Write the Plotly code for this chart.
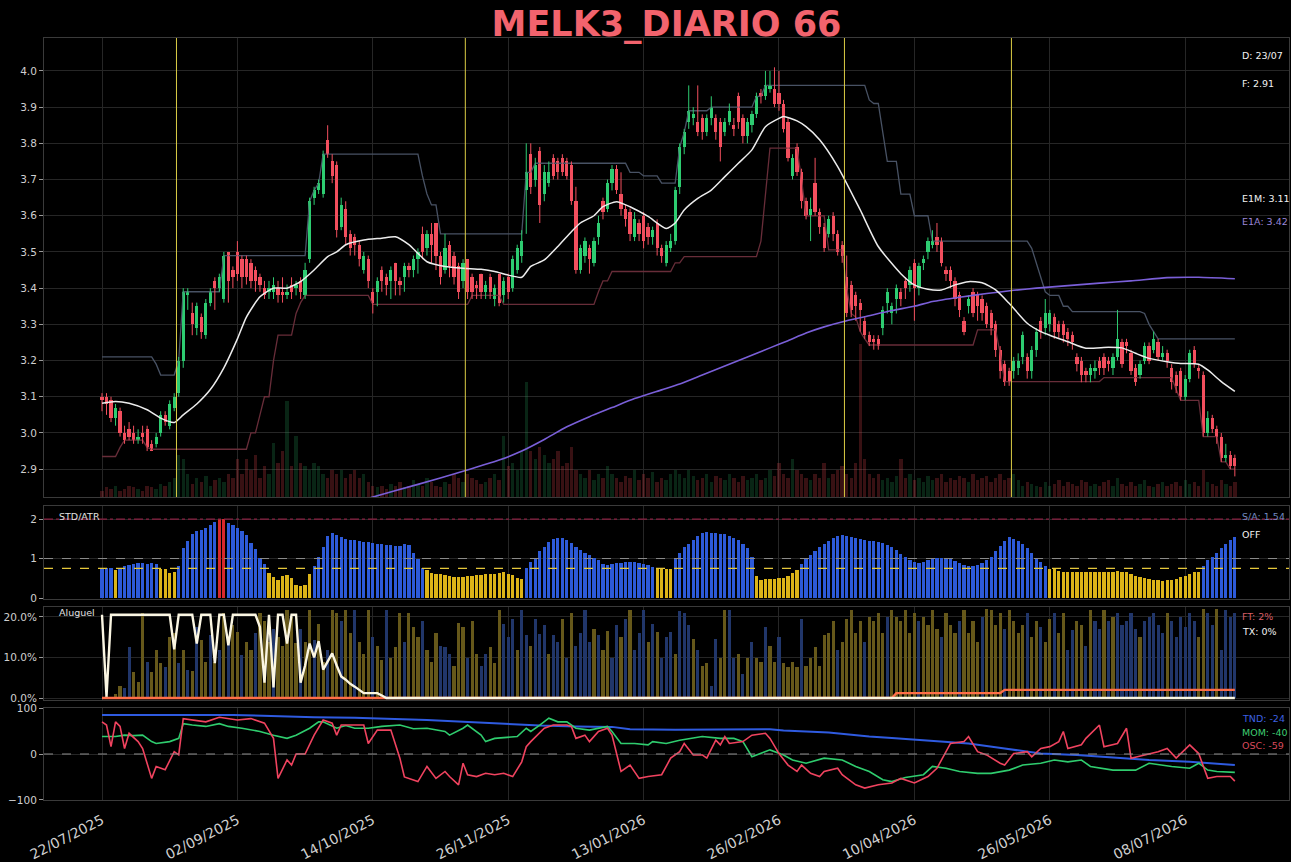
import plotly.graph_objects as go

TITLE = "MELK3_DIARIO 66"
TICK_POS = [0, 30, 60, 90, 120, 150, 180, 210, 240]
TICK_LABELS = ["22/07/2025", "02/09/2025", "14/10/2025", "26/11/2025", "13/01/2026",
               "26/02/2026", "10/04/2026", "26/05/2026", "08/07/2026"]
EVENTS = [16.5, 80.5, 164.5, 201.5]

OPEN = [3.10,3.10,3.09,3.04,3.06,3.00,3.01,3.00,2.98,3.00,
        3.01,2.97,2.97,3.00,3.05,3.02,3.07,3.11,3.20,3.38,
        3.33,3.29,3.32,3.27,3.36,3.42,3.40,3.37,3.50,3.45,
        3.50,3.48,3.48,3.47,3.45,3.43,3.40,3.39,3.39,3.40,
        3.39,3.38,3.41,3.40,3.42,3.38,3.48,3.65,3.67,3.66,
        3.81,3.75,3.74,3.57,3.62,3.55,3.54,3.52,3.45,3.48,
        3.39,3.39,3.45,3.43,3.42,3.47,3.42,3.43,3.46,3.45,
        3.48,3.55,3.51,3.55,3.58,3.49,3.45,3.52,3.49,3.46,
        3.42,3.48,3.43,3.41,3.44,3.39,3.43,3.37,3.44,3.38,
        3.43,3.40,3.45,3.49,3.67,3.77,3.70,3.78,3.66,3.69,
        3.76,3.75,3.76,3.75,3.74,3.64,3.45,3.49,3.51,3.47,
        3.54,3.64,3.62,3.69,3.73,3.66,3.62,3.61,3.54,3.58,
        3.60,3.57,3.54,3.58,3.51,3.47,3.51,3.53,3.68,3.79,
        3.86,3.87,3.86,3.87,3.83,3.87,3.87,3.86,3.83,3.86,
        3.85,3.93,3.87,3.82,3.85,3.88,3.94,3.93,3.95,3.95,
        3.94,3.91,3.86,3.71,3.79,3.72,3.64,3.60,3.69,3.61,
        3.57,3.55,3.60,3.55,3.52,3.43,3.41,3.38,3.36,3.31,
        3.27,3.26,3.26,3.29,3.36,3.33,3.37,3.39,3.42,3.41,
        3.47,3.40,3.47,3.50,3.52,3.54,3.53,3.45,3.45,3.42,
        3.38,3.31,3.35,3.39,3.38,3.37,3.35,3.33,3.30,3.23,
        3.19,3.17,3.17,3.18,3.21,3.21,3.17,3.23,3.31,3.29,
        3.30,3.32,3.30,3.30,3.28,3.27,3.21,3.20,3.17,3.16,
        3.17,3.20,3.21,3.20,3.18,3.21,3.25,3.25,3.22,3.18,
        3.16,3.20,3.24,3.23,3.25,3.21,3.22,3.18,3.16,3.17,
        3.10,3.15,3.23,3.18,3.16,3.00,3.04,3.01,2.99,2.93,
        2.94,2.93]

CLOSE = [3.09,3.08,3.04,3.07,3.00,2.98,2.99,2.98,2.99,2.99,
         2.96,2.95,2.99,3.05,3.03,3.08,3.10,3.20,3.39,3.39,
         3.30,3.35,3.28,3.36,3.39,3.40,3.43,3.49,3.42,3.43,
         3.44,3.43,3.43,3.42,3.42,3.41,3.38,3.40,3.41,3.38,
         3.38,3.39,3.39,3.41,3.39,3.45,3.64,3.67,3.69,3.77,
         3.77,3.71,3.56,3.63,3.54,3.51,3.52,3.48,3.49,3.42,
         3.36,3.42,3.42,3.41,3.45,3.42,3.41,3.46,3.45,3.48,
         3.50,3.50,3.55,3.52,3.49,3.43,3.51,3.46,3.43,3.39,
         3.47,3.39,3.39,3.40,3.39,3.41,3.39,3.40,3.36,3.42,
         3.39,3.48,3.51,3.53,3.72,3.68,3.74,3.63,3.72,3.72,
         3.71,3.72,3.72,3.71,3.64,3.45,3.51,3.53,3.48,3.53,
         3.58,3.61,3.69,3.73,3.67,3.62,3.59,3.55,3.59,3.55,
         3.53,3.54,3.56,3.51,3.49,3.52,3.53,3.67,3.79,3.83,
         3.89,3.88,3.83,3.83,3.87,3.90,3.83,3.79,3.86,3.89,
         3.84,3.86,3.82,3.86,3.88,3.93,3.93,3.96,3.96,3.91,
         3.91,3.84,3.76,3.76,3.72,3.64,3.60,3.62,3.61,3.57,
         3.51,3.59,3.55,3.50,3.49,3.33,3.34,3.35,3.34,3.27,
         3.25,3.25,3.24,3.34,3.39,3.35,3.40,3.37,3.40,3.45,
         3.40,3.46,3.48,3.53,3.53,3.52,3.47,3.44,3.42,3.37,
         3.34,3.28,3.37,3.33,3.35,3.33,3.30,3.29,3.23,3.17,
         3.14,3.14,3.20,3.20,3.27,3.17,3.23,3.28,3.28,3.33,
         3.33,3.28,3.28,3.27,3.26,3.25,3.19,3.16,3.16,3.18,
         3.18,3.18,3.18,3.19,3.21,3.26,3.19,3.24,3.17,3.14,
         3.19,3.24,3.20,3.26,3.21,3.22,3.20,3.14,3.13,3.10,
         3.15,3.22,3.19,3.17,3.00,3.04,3.01,2.99,2.93,2.94,
         2.91,2.91]

HIGH = [3.11,3.11,3.10,3.08,3.07,3.02,3.03,3.02,3.01,3.02,
        3.02,2.98,3.00,3.06,3.06,3.09,3.11,3.21,3.40,3.40,
        3.36,3.36,3.33,3.37,3.40,3.43,3.44,3.50,3.50,3.46,
        3.53,3.49,3.49,3.48,3.46,3.44,3.42,3.42,3.43,3.42,
        3.43,3.41,3.43,3.42,3.43,3.47,3.65,3.68,3.70,3.78,
        3.85,3.77,3.75,3.65,3.64,3.56,3.55,3.53,3.50,3.49,
        3.40,3.43,3.46,3.44,3.46,3.47,3.43,3.47,3.47,3.49,
        3.51,3.57,3.56,3.58,3.58,3.50,3.55,3.53,3.50,3.47,
        3.48,3.48,3.44,3.42,3.44,3.42,3.44,3.41,3.44,3.43,
        3.44,3.49,3.52,3.56,3.80,3.80,3.76,3.79,3.74,3.75,
        3.77,3.76,3.77,3.76,3.75,3.68,3.52,3.54,3.52,3.54,
        3.60,3.65,3.70,3.74,3.74,3.72,3.63,3.62,3.61,3.59,
        3.61,3.58,3.57,3.59,3.52,3.53,3.55,3.68,3.80,3.84,
        3.96,3.90,3.96,3.88,3.88,3.93,3.88,3.87,3.87,3.91,
        3.87,3.94,3.88,3.87,3.89,3.94,3.95,4.00,4.00,4.01,
        4.00,3.92,3.87,3.77,3.80,3.73,3.65,3.65,3.76,3.62,
        3.58,3.60,3.61,3.56,3.53,3.49,3.42,3.39,3.37,3.32,
        3.28,3.27,3.27,3.35,3.40,3.36,3.41,3.40,3.43,3.46,
        3.48,3.47,3.49,3.54,3.56,3.58,3.54,3.46,3.46,3.43,
        3.39,3.32,3.38,3.40,3.39,3.38,3.36,3.34,3.31,3.24,
        3.20,3.18,3.21,3.22,3.28,3.22,3.24,3.29,3.32,3.37,
        3.34,3.33,3.31,3.31,3.29,3.28,3.22,3.21,3.18,3.19,
        3.20,3.21,3.22,3.21,3.22,3.34,3.26,3.26,3.23,3.19,
        3.20,3.25,3.25,3.28,3.26,3.24,3.23,3.19,3.17,3.18,
        3.16,3.23,3.24,3.19,3.17,3.06,3.05,3.02,3.00,2.97,
        2.95,2.94]

LOW = [3.06,3.05,3.03,3.02,2.99,2.97,2.98,2.97,2.97,2.97,
       2.95,2.95,2.96,2.99,3.02,3.01,3.06,3.10,3.18,3.34,
       3.27,3.27,3.26,3.26,3.35,3.34,3.39,3.36,3.36,3.40,
       3.42,3.40,3.41,3.40,3.39,3.39,3.37,3.37,3.37,3.36,
       3.36,3.37,3.37,3.38,3.37,3.37,3.47,3.63,3.66,3.65,
       3.76,3.69,3.54,3.56,3.52,3.49,3.49,3.46,3.44,3.40,
       3.33,3.35,3.39,3.38,3.37,3.38,3.38,3.39,3.43,3.43,
       3.44,3.48,3.49,3.47,3.45,3.41,3.44,3.43,3.41,3.37,
       3.40,3.37,3.37,3.37,3.37,3.37,3.37,3.35,3.35,3.36,
       3.37,3.39,3.44,3.47,3.55,3.66,3.68,3.58,3.64,3.68,
       3.70,3.70,3.71,3.70,3.63,3.44,3.44,3.47,3.44,3.46,
       3.52,3.59,3.61,3.67,3.66,3.60,3.57,3.53,3.53,3.53,
       3.51,3.52,3.52,3.49,3.47,3.46,3.50,3.52,3.66,3.77,
       3.84,3.85,3.82,3.81,3.82,3.85,3.81,3.75,3.82,3.85,
       3.82,3.84,3.80,3.80,3.83,3.87,3.91,3.92,3.94,3.90,
       3.89,3.83,3.75,3.70,3.71,3.62,3.59,3.53,3.60,3.55,
       3.50,3.54,3.53,3.49,3.47,3.32,3.32,3.31,3.28,3.26,
       3.24,3.23,3.23,3.27,3.33,3.30,3.33,3.35,3.37,3.39,
       3.31,3.38,3.45,3.48,3.51,3.50,3.46,3.42,3.40,3.35,
       3.32,3.27,3.33,3.32,3.31,3.31,3.29,3.27,3.21,3.15,
       3.13,3.13,3.15,3.16,3.19,3.15,3.15,3.21,3.26,3.27,
       3.28,3.26,3.26,3.25,3.24,3.23,3.17,3.14,3.14,3.14,
       3.15,3.16,3.16,3.17,3.16,3.20,3.18,3.22,3.16,3.13,
       3.15,3.19,3.19,3.22,3.20,3.20,3.18,3.12,3.11,3.09,
       3.09,3.14,3.18,3.15,2.99,2.99,3.00,2.97,2.92,2.92,
       2.90,2.88]

VOLUME = [0.15,0.25,0.20,0.30,0.15,0.20,0.30,0.25,0.20,0.15,
          0.30,0.25,0.20,0.35,0.30,0.40,0.50,1.10,1.00,0.60,
          0.35,0.50,0.40,0.55,0.30,0.45,0.50,0.40,0.60,0.50,
          1.00,0.60,1.00,0.70,1.10,0.50,0.80,0.60,1.40,0.90,
          1.20,2.50,0.80,1.60,0.90,0.80,0.70,0.90,0.80,0.60,
          0.50,0.70,0.60,0.70,0.50,0.60,0.70,0.50,0.60,0.40,
          0.30,0.25,0.30,0.20,0.35,0.30,0.40,0.25,0.30,0.45,
          0.35,0.30,0.50,0.40,0.30,0.25,0.40,0.35,0.60,0.50,
          0.40,0.60,0.50,0.45,0.35,0.40,0.50,0.60,0.45,1.60,
          0.80,0.90,0.70,1.20,3.00,1.20,1.00,1.30,1.10,0.90,
          1.00,1.20,0.80,0.90,1.30,0.70,0.60,0.50,0.70,0.45,
          0.60,0.50,0.80,0.60,0.50,0.40,0.55,0.50,0.70,0.45,
          0.60,0.50,0.65,0.40,0.50,0.45,0.60,0.70,0.60,0.50,
          0.70,0.55,0.45,0.50,0.60,0.40,0.55,0.50,0.45,0.60,
          0.50,0.40,0.55,0.45,0.50,0.60,0.45,0.50,0.70,0.55,
          0.90,0.60,0.50,1.00,0.70,0.60,0.50,0.45,0.60,0.50,
          0.90,0.50,0.60,0.70,0.80,0.60,0.50,0.90,4.00,1.00,
          0.60,0.50,0.60,0.45,0.50,0.40,0.55,1.00,0.50,0.60,
          0.45,0.50,0.40,0.55,0.45,0.50,0.60,0.40,0.50,0.45,
          0.55,0.50,0.40,0.60,0.45,0.50,0.55,0.40,0.50,0.60,
          0.45,0.50,0.60,0.45,0.30,0.40,0.35,0.30,0.25,0.40,
          0.30,0.35,0.45,0.30,0.40,0.35,0.30,0.45,0.40,0.30,
          0.35,0.30,0.40,0.45,0.30,0.50,0.35,0.30,0.40,0.30,
          0.35,0.45,0.30,0.25,0.35,0.40,0.30,0.35,0.40,0.30,
          0.45,0.35,0.40,0.30,0.70,0.40,0.35,0.30,0.45,0.35,
          0.30,0.40]

# channel lines, (value, number of bars) read as flat steps
UPPER_RUNS = [(3.21,12),(3.19,1),(3.16,4),(3.20,1),(3.39,9),(3.49,19),(3.64,1),(3.67,1),
              (3.69,1),(3.77,22),(3.71,1),(3.66,1),(3.63,2),(3.55,19),(3.72,2),(3.745,21),
              (3.72,3),(3.71,4),(3.69,4),(3.79,1),(3.83,1),(3.89,5),(3.90,10),(3.93,2),
              (3.96,23),(3.92,1),(3.91,2),(3.83,1),(3.75,3),(3.66,3),(3.60,4),(3.53,22),
              (3.51,1),(3.47,1),(3.43,1),(3.39,1),(3.38,3),(3.35,2),(3.335,16),(3.33,1),
              (3.30,1),(3.28,1),(3.26,18)]
LOWER_RUNS = [(2.935,4),(2.96,1),(2.98,5),(2.96,1),(2.955,22),(3.00,2),(3.05,1),(3.10,2),
              (3.20,1),(3.27,4),(3.33,1),(3.36,1),(3.38,15),(3.355,22),(3.38,7),(3.355,21),
              (3.39,1),(3.42,2),(3.446,14),(3.47,2),(3.487,17),(3.53,1),(3.65,1),(3.787,7),
              (3.70,1),(3.60,5),(3.506,4),(3.40,1),(3.33,1),(3.32,1),(3.28,1),(3.26,1),
              (3.243,24),(3.285,5),(3.22,1),(3.142,22),(3.153,16),(3.12,1),(3.09,5),
              (2.99,4),(2.92,2),(2.90,2)]

MA_X = [0,3,6,10,13,16,18,21,24,27,30,32,35,38,41,44,47,50,52,54,58,62,65,68,70,72,76,80,84,87,
        90,93,95,98,101,104,106,109,111,114,117,121,125,127,129,132,135,138,141,144,147,150,151,
        154,156,159,163,168,172,177,180,183,186,189,192,195,198,201,205,208,210,214,218,223,226,
        229,232,236,239,243,245,248,251]
MA_Y = [3.082,3.087,3.082,3.064,3.041,3.029,3.05,3.08,3.12,3.18,3.26,3.32,3.376,3.40,3.40,3.418,
        3.45,3.487,3.50,3.52,3.533,3.538,3.542,3.52,3.496,3.473,3.46,3.455,3.452,3.446,3.436,3.43,
        3.46,3.478,3.515,3.556,3.58,3.60,3.625,3.639,3.625,3.598,3.565,3.58,3.616,3.648,3.671,3.708,
        3.745,3.782,3.846,3.869,3.874,3.862,3.846,3.81,3.736,3.616,3.515,3.44,3.409,3.397,3.395,
        3.409,3.418,3.415,3.395,3.358,3.303,3.28,3.27,3.252,3.234,3.237,3.235,3.22,3.206,3.197,
        3.192,3.19,3.174,3.142,3.115]

E1A_X = [55,60,70,80,88,93,98,103,108,113,118,124,128,133,138,143,148,152,156,160,165,169,175,
         180,184,190,196,202,207,214,221,228,236,243,251]
E1A_Y = [2.805,2.823,2.858,2.894,2.925,2.950,2.982,3.017,3.045,3.07,3.095,3.119,3.135,3.16,3.185,
         3.21,3.235,3.255,3.276,3.293,3.31,3.321,3.338,3.35,3.363,3.375,3.385,3.394,3.40,3.407,
         3.414,3.42,3.429,3.43,3.426]

STD_ATR = [0.76,0.76,0.75,0.72,0.77,0.80,0.84,0.87,0.88,0.88,
           0.87,0.88,0.85,0.74,0.73,0.64,0.65,0.80,1.26,1.45,
           1.62,1.70,1.72,1.78,1.85,1.92,1.99,2.00,1.90,1.84,
           1.78,1.70,1.60,1.40,1.25,1.02,0.85,0.63,0.52,0.46,
           0.55,0.57,0.50,0.33,0.30,0.33,0.60,0.80,1.05,1.30,
           1.58,1.65,1.60,1.55,1.50,1.48,1.46,1.44,1.43,1.42,
           1.40,1.38,1.36,1.35,1.34,1.32,1.32,1.38,1.35,1.15,
           1.00,0.76,0.70,0.63,0.62,0.60,0.58,0.55,0.53,0.52,
           0.53,0.55,0.56,0.57,0.58,0.60,0.61,0.62,0.64,0.66,
           0.62,0.58,0.50,0.48,0.76,0.90,1.00,1.18,1.30,1.42,
           1.50,1.53,1.52,1.47,1.40,1.30,1.22,1.15,1.10,1.02,
           0.95,0.86,0.84,0.86,0.88,0.88,0.90,0.92,0.90,0.88,
           0.86,0.84,0.78,0.74,0.74,0.74,0.73,1.00,1.15,1.28,
           1.38,1.48,1.58,1.64,1.66,1.65,1.64,1.63,1.62,1.58,
           1.53,1.46,1.38,1.26,1.05,0.55,0.46,0.47,0.48,0.49,
           0.50,0.50,0.55,0.63,0.72,0.86,0.98,1.08,1.18,1.28,
           1.36,1.45,1.52,1.58,1.60,1.58,1.55,1.52,1.49,1.47,
           1.45,1.44,1.43,1.40,1.35,1.28,1.22,1.12,1.03,0.96,
           0.92,0.88,0.90,0.95,0.99,1.01,1.01,1.00,0.98,0.94,
           0.88,0.83,0.80,0.81,0.83,0.88,0.95,1.05,1.18,1.32,
           1.45,1.54,1.50,1.44,1.36,1.26,1.15,1.02,0.90,0.80,
           0.74,0.73,0.68,0.66,0.65,0.66,0.66,0.65,0.66,0.67,
           0.66,0.67,0.66,0.67,0.67,0.68,0.66,0.66,0.60,0.56,
           0.53,0.51,0.48,0.46,0.45,0.44,0.45,0.46,0.48,0.52,
           0.56,0.62,0.67,0.66,0.80,0.95,1.05,1.15,1.26,1.37,
           1.46,1.54]
STD_LEVELS = [2.0, 1.0, 0.75]

ALUGUEL = [0.0,0.5,0.3,1.0,3.0,2.5,12.6,6.5,4.0,21.0,
           9.0,6.5,12.0,8.6,7.7,15.0,16.0,8.6,12.0,7.0,
           6.8,17.6,14.4,9.0,15.7,9.0,12.0,21.0,14.4,18.0,
           16.3,10.7,14.0,12.0,16.0,21.0,19.0,14.0,17.0,15.0,
           13.0,21.8,20.0,13.6,17.0,14.0,21.8,14.4,18.2,9.0,
           12.0,21.8,21.0,19.0,21.8,16.0,21.8,14.0,11.0,21.8,
           15.0,13.0,9.5,21.8,10.0,12.6,21.0,14.0,21.0,17.6,
           15.0,19.0,12.0,9.0,16.0,13.0,12.6,11.0,8.0,18.6,
           17.6,10.0,19.0,11.0,8.0,11.0,12.6,8.6,21.8,18.2,
           15.0,19.6,12.0,21.8,15.5,13.0,19.6,15.8,18.0,11.0,
           15.5,14.0,19.6,10.0,20.9,13.0,16.0,21.8,14.0,17.0,
           15.7,12.0,16.7,10.0,18.0,15.0,19.6,21.8,12.0,16.0,
           21.8,14.0,18.2,16.3,10.0,15.0,16.3,11.0,21.5,21.0,
           18.0,14.7,12.0,8.0,8.6,3.0,14.7,10.0,21.8,21.8,
           10.0,11.0,6.0,10.0,14.0,10.0,9.0,17.6,13.0,9.0,
           15.0,8.6,7.7,9.0,7.7,19.6,8.0,10.0,12.6,8.0,
           15.6,16.0,19.0,12.0,14.0,19.6,21.8,16.0,19.0,14.0,
           20.0,19.0,21.0,16.0,20.0,21.8,20.0,19.0,21.8,16.0,
           21.0,19.0,20.0,18.0,21.8,17.0,15.0,21.0,18.0,16.0,
           19.0,21.8,16.0,19.0,14.0,20.0,22.0,21.8,18.0,21.0,
           17.0,21.8,19.0,16.0,18.0,21.0,15.0,19.0,17.6,14.0,
           19.6,21.0,16.0,21.0,12.0,16.9,19.0,18.0,13.0,21.8,
           19.0,17.0,21.8,19.0,20.0,21.0,18.0,19.0,21.0,17.0,
           15.0,19.0,20.0,21.0,18.0,16.0,21.0,19.0,15.0,20.0,
           17.6,21.0,19.0,15.0,22.0,21.0,18.0,22.0,12.0,21.8,
           20.0,21.0]
ALUGUEL_KIND = ("YYBYYBBYYY" "BYYYBYYBYB" "YBYYBYBYBY" "YBYYBYYYBY" "YYYYBYYBYY"
                "BYYBYYBYYY" "BYYBYYYBYY" "YBYYYBBBYY" "YBYYBBYYYB" "BBYBBYBBBY"
                "BBYBYBBBBY" "BYYBBYBYBB" "BYBYBBBYBB" "BYBYYBBYYB" "BYBYBYYBYY"
                "BYYYYBYYYY" "YYYBYYYYYB" "YYYYBYYYYY" "YBYYYYBYYY" "BYYYYBYYYY"
                "BYYYYBYYBY" "YBYYBBYYBY" "BBYBYBBBBB" "YBBBBBYBBB" "BBBYYBBYBB" "BB")
TX_LINE = [20.5,0.3,20.5,20.5,20.5,20.5,20.5,20.5,
           20.5,20.5,20.5,20.5,20.5,20.5,20.5,20.5,
           12.0,20.5,20.5,20.5,20.5,13.4,20.5,20.5,
           20.5,8.6,20.5,20.5,13.0,20.5,20.5,20.5,
           20.5,20.5,20.5,17.5,3.8,20.5,2.6,20.5,
           20.5,13.4,20.5,20.5,3.8,8.0,13.4,10.0,
           14.0,7.0,9.0,11.0,8.0,5.3,4.5,3.5,
           2.8,2.0,1.2,1.2,1.2,1.2,0.6,0.0] + [0.0] * 188
FT_LINE = [0.0] * 176 + [1.2] * 24 + [2.0] * 52

TND = [(0,85),(29,85),(47,80),(56,79),(72,74),(80,70),(89,67),(97,62),(105,60),(113,59),(117,54),
       (127,53),(148,54),(151,51),(161,47),(170,38),(175,35),(183,30),(192,23),(200,12),(208,1),
       (216,-2),(224,-8),(232,-13),(241,-17),(251,-24)]
MOM = [(0,38),(3,38),(5,41),(7,40),(9,41),(11,27),(12,23),(15,27),(17,34),(18,66),(20,63),(23,60),
       (26,66),(28,60),(31,56),(35,49),(38,41),(41,34),(43,41),(46,56),(48,70),(49,70),(52,56),(54,62),
       (56,56),(59,56),(62,60),(66,63),(69,55),(72,56),(76,49),(77,41),(80,56),(81,63),(84,41),(85,27),
       (87,34),(89,36),(92,38),(94,56),(95,49),(97,63),(99,78),(101,70),(103,70),(105,56),(108,52),
       (112,60),(113,49),(115,23),(118,23),(121,20),(122,27),(125,23),(128,30),(133,38),(137,34),
       (140,34),(142,27),(144,-6),(146,2),(148,9),(151,-2),(153,-13),(156,-20),(160,-9),(164,-13),
       (167,-27),(170,-38),(173,-56),(175,-60),(178,-51),(182,-45),(184,-27),(187,-31),(190,-38),
       (194,-42),(197,-42),(201,-35),(204,-24),(208,-20),(211,-13),(214,-17),(217,-13),(219,-27),
       (224,-35),(229,-35),(232,-20),(237,-27),(241,-31),(243,-20),(245,-35),(247,-38),(251,-40)]
OSC = [(0,70),(1,63),(2,16),(3,70),(4,60),(5,12),(6,45),(8,27),(9,12),(11,-53),(12,-27),(14,-34),
       (16,5),(17,-2),(18,77),(20,74),(23,70),(26,80),(30,74),(33,77),(36,67),(38,34),(39,-53),
       (41,-13),(42,-24),(43,0),(45,0),(47,41),(49,74),(51,67),(52,41),(53,63),(58,63),(59,23),
       (61,52),(64,52),(66,-9),(67,-50),(70,-60),(72,-27),(74,-53),(76,-38),(77,-49),(79,-67),
       (80,-20),(81,-45),(83,-49),(85,-42),(87,-45),(89,-42),(91,-49),(93,-17),(94,16),(95,27),
       (98,56),(100,63),(103,63),(104,60),(105,34),(107,41),(108,27),(110,49),(112,56),(113,41),
       (115,-38),(117,-24),(119,-53),(121,-49),(124,-45),(126,-9),(128,5),(129,23),(131,-2),
       (133,-2),(134,-9),(136,30),(137,20),(138,38),(139,23),(142,27),(144,41),(147,45),(148,34),
       (150,1),(152,-24),(154,-38),(155,-24),(157,-42),(159,-49),(160,-38),(163,-31),(164,-45),
       (167,-67),(169,-74),(172,-67),(175,-63),(177,-53),(180,-63),(183,-49),(185,-31),(187,5),
       (188,23),(191,27),(192,38),(194,5),(196,-2),(199,-20),(200,-24),(202,1),(205,5),(206,-6),
       (208,12),(210,16),(212,27),(213,49),(214,12),(217,20),(218,34),(221,63),(222,16),(225,23),
       (227,56),(228,-9),(231,-2),(234,5),(236,12),(238,-9),(241,20),(243,1),(245,-53),(247,-49),
       (250,-49),(251,-59)]

LABELS_MAIN = ["D: 23/07", "F: 2.91", "E1M: 3.11", "E1A: 3.42"]
LABELS_STD = ["S/A: 1.54", "OFF"]
LABELS_ALU = ["FT: 2%", "TX: 0%"]
LABELS_OSC = ["TND: -24", "MOM: -40", "OSC: -59"]


def expand(runs):
    out = []
    for v, n in runs:
        out += [v] * n
    return out


UPPER = expand(UPPER_RUNS)
LOWER = expand(LOWER_RUNS)

GREEN = "#2ecc71"
RED = "#f24f5e"
FONT = "DejaVu Sans"
GRID = "#262626"
BORDER = "#3a3a3a"
TXT = "#cfcfcf"

n = len(CLOSE)
up = [CLOSE[i] >= OPEN[i] for i in range(n)]

fig = go.Figure()

# volume (base axis of the main panel)
fig.add_trace(go.Bar(
    x=list(range(len(VOLUME))), y=VOLUME, width=0.75, xaxis="x", yaxis="y",
    marker=dict(color=["rgba(40,170,95,0.22)" if up[i] else "rgba(235,70,80,0.24)"
                       for i in range(len(VOLUME))], line=dict(width=0)),
    hoverinfo="skip"))

# channels
fig.add_trace(go.Scatter(x=list(range(len(UPPER))), y=UPPER, mode="lines", xaxis="x", yaxis="y5",
                         line=dict(color="#485264", width=1.3), hoverinfo="skip"))
fig.add_trace(go.Scatter(x=list(range(len(LOWER))), y=LOWER, mode="lines", xaxis="x", yaxis="y5",
                         line=dict(color="#682d39", width=1.3), hoverinfo="skip"))

# candles: wicks + bodies
for flag, col in ((True, GREEN), (False, RED)):
    wx, wy = [], []
    bx, bb, bh = [], [], []
    for i in range(n):
        if up[i] != flag:
            continue
        wx += [i, i, None]
        wy += [LOW[i], HIGH[i], None]
        bx.append(i)
        bb.append(min(OPEN[i], CLOSE[i]))
        bh.append(max(abs(CLOSE[i] - OPEN[i]), 0.004))
    fig.add_trace(go.Scatter(x=wx, y=wy, mode="lines", xaxis="x", yaxis="y5",
                             line=dict(color=col, width=1), hoverinfo="skip"))
    fig.add_trace(go.Bar(x=bx, y=bh, base=bb, width=0.72, xaxis="x", yaxis="y5",
                         marker=dict(color=col, line=dict(width=0)), hoverinfo="skip"))

# averages
fig.add_trace(go.Scatter(x=E1A_X, y=E1A_Y, mode="lines", xaxis="x", yaxis="y5",
                         line=dict(color="#7a5fd8", width=1.6, shape="spline", smoothing=0.6),
                         hoverinfo="skip"))
fig.add_trace(go.Scatter(x=MA_X, y=MA_Y, mode="lines", xaxis="x", yaxis="y5",
                         line=dict(color="#ececec", width=1.5, shape="spline", smoothing=0.6),
                         hoverinfo="skip"))

# STD/ATR panel
std_col = []
for v in STD_ATR:
    if v >= 1.98:
        std_col.append("#d8282c")
    elif v >= STD_LEVELS[2]:
        std_col.append("#2d5ad8")
    else:
        std_col.append("#dcb418")
fig.add_trace(go.Bar(x=list(range(len(STD_ATR))), y=STD_ATR, width=0.72, xaxis="x2", yaxis="y2",
                     marker=dict(color=std_col, line=dict(width=0)), hoverinfo="skip"))

# Aluguel panel
alu_col = ["#66581a" if k == "Y" else "#21366a" for k in ALUGUEL_KIND]
fig.add_trace(go.Bar(x=list(range(len(ALUGUEL))), y=ALUGUEL, width=0.7, xaxis="x3", yaxis="y3",
                     marker=dict(color=alu_col, line=dict(width=0)), hoverinfo="skip"))
fig.add_trace(go.Scatter(x=list(range(len(FT_LINE))), y=FT_LINE, mode="lines", xaxis="x3", yaxis="y3",
                         line=dict(color="#ff6e48", width=2.4), hoverinfo="skip"))
fig.add_trace(go.Scatter(x=list(range(len(TX_LINE))), y=TX_LINE, mode="lines", xaxis="x3", yaxis="y3",
                         line=dict(color="#fbf6e2", width=2.4), hoverinfo="skip"))

# oscillators
for data, col, w in ((TND, "#2f5be0", 2.0), (MOM, "#2fcc6e", 1.6), (OSC, "#f0435f", 1.6)):
    fig.add_trace(go.Scatter(x=[p[0] for p in data], y=[p[1] for p in data], mode="lines",
                             xaxis="x4", yaxis="y4", line=dict(color=col, width=w),
                             hoverinfo="skip"))

shapes = []
for e in EVENTS:
    shapes.append(dict(type="line", xref="x", yref="y domain", x0=e, x1=e, y0=0, y1=1,
                       line=dict(color="#dccd45", width=1), layer="above"))
shapes.append(dict(type="line", xref="x2 domain", yref="y2", x0=0, x1=1, y0=STD_LEVELS[0],
                   y1=STD_LEVELS[0], line=dict(color="#8a2042", width=1.2, dash="dashdot")))
shapes.append(dict(type="line", xref="x2 domain", yref="y2", x0=0, x1=1, y0=STD_LEVELS[1],
                   y1=STD_LEVELS[1], line=dict(color="#8c8c8c", width=1, dash="dash")))
shapes.append(dict(type="line", xref="x2 domain", yref="y2", x0=0, x1=1, y0=STD_LEVELS[2],
                   y1=STD_LEVELS[2], line=dict(color="#e6c83a", width=1.4, dash="dash"),
                   layer="above"))
shapes.append(dict(type="line", xref="x4 domain", yref="y4", x0=0, x1=1, y0=0, y1=0,
                   line=dict(color="#8c8c8c", width=1.2, dash="dash")))

ann = []


def label(text, xp, yp, color, size=9.5, anchor="left"):
    ann.append(dict(text=text, x=xp, y=yp, xref="paper", yref="paper", showarrow=False,
                    xanchor=anchor, yanchor="middle", font=dict(family=FONT, size=size, color=color)))


RX = 0.9606
label(LABELS_MAIN[0], RX, 0.9764, "#f2f2f2")
label(LABELS_MAIN[1], RX, 0.9409, "#f2f2f2")
label(LABELS_MAIN[2], RX, 0.7900, "#f2f2f2")
label(LABELS_MAIN[3], RX, 0.7598, "#9a86d8")
label(LABELS_STD[0], RX, 0.3727, "#7088bf")
label(LABELS_STD[1], RX, 0.3478, "#f2f2f2")
label(LABELS_ALU[0], RX, 0.2402, "#d85d66")
label(LABELS_ALU[1], RX, 0.2205, "#f2f2f2")
label(LABELS_OSC[0], RX, 0.1076, "#3d60e0")
label(LABELS_OSC[1], RX, 0.0892, "#3fcc72")
label(LABELS_OSC[2], RX, 0.0709, "#d94a5c")
label("STD/ATR", 0.0104, 0.3727, "#e0e0e0")
label("Aluguel", 0.0104, 0.2467, "#e0e0e0")

XR = [-12.85, 263.0]
xcommon = dict(range=XR, tickvals=TICK_POS, showgrid=True, gridcolor=GRID, gridwidth=1,
               zeroline=False, showline=True, mirror=True, linecolor=BORDER, linewidth=1,
               ticks="", fixedrange=True)
ycommon = dict(showgrid=True, gridcolor=GRID, gridwidth=1, zeroline=False, showline=True,
               mirror=True, linecolor=BORDER, linewidth=1, ticks="outside", ticklen=4,
               tickcolor="#9a9a9a", tickfont=dict(family=FONT, size=10.5, color=TXT))

price_ticks = [2.9, 3.0, 3.1, 3.2, 3.3, 3.4, 3.5, 3.6, 3.7, 3.8, 3.9, 4.0]

fig.update_layout(
    width=1291, height=862,
    paper_bgcolor="#000000", plot_bgcolor="#000000",
    margin=dict(l=44, r=2, t=38, b=62, autoexpand=False),
    showlegend=False, barmode="overlay", bargap=0,
    title=dict(text="<b>" + TITLE + "</b>", x=0.5, xref="paper", y=0.972, yref="container",
               xanchor="center", yanchor="middle",
               font=dict(family=FONT, size=35, color="#f2636d")),
    xaxis=dict(domain=[0, 1], anchor="y", showticklabels=False, **xcommon),
    xaxis2=dict(domain=[0, 1], anchor="y2", matches="x", showticklabels=False, **xcommon),
    xaxis3=dict(domain=[0, 1], anchor="y3", matches="x", showticklabels=False, **xcommon),
    xaxis4=dict(domain=[0, 1], anchor="y4", matches="x", showticklabels=True, ticktext=TICK_LABELS,
                tickangle=-27, tickfont=dict(family=FONT, size=14, color=TXT),
                ticklabelstandoff=6, **xcommon),
    yaxis=dict(domain=[0.3976, 1.0], anchor="x", range=[0, 12], visible=False, fixedrange=True),
    yaxis5=dict(overlaying="y", anchor="x", side="left", range=[2.823, 4.091],
                tickvals=price_ticks, ticktext=["%.1f" % v for v in price_ticks], **ycommon),
    yaxis2=dict(domain=[0.2638, 0.3858], anchor="x2", range=[-0.025, 2.33],
                tickvals=[0, 1, 2], ticktext=["0", "1", "2"], **ycommon),
    yaxis3=dict(domain=[0.1312, 0.2537], anchor="x3", range=[-0.5, 22.5],
                tickvals=[0, 10, 20], ticktext=["0.0%", "10.0%", "20.0%"], **ycommon),
    yaxis4=dict(domain=[0.0, 0.1207], anchor="x4", range=[-100, 100],
                tickvals=[-100, 0, 100], ticktext=["\u2212100", "0", "100"], **ycommon),
    shapes=shapes, annotations=ann,
)

fig.write_html("out.html")
